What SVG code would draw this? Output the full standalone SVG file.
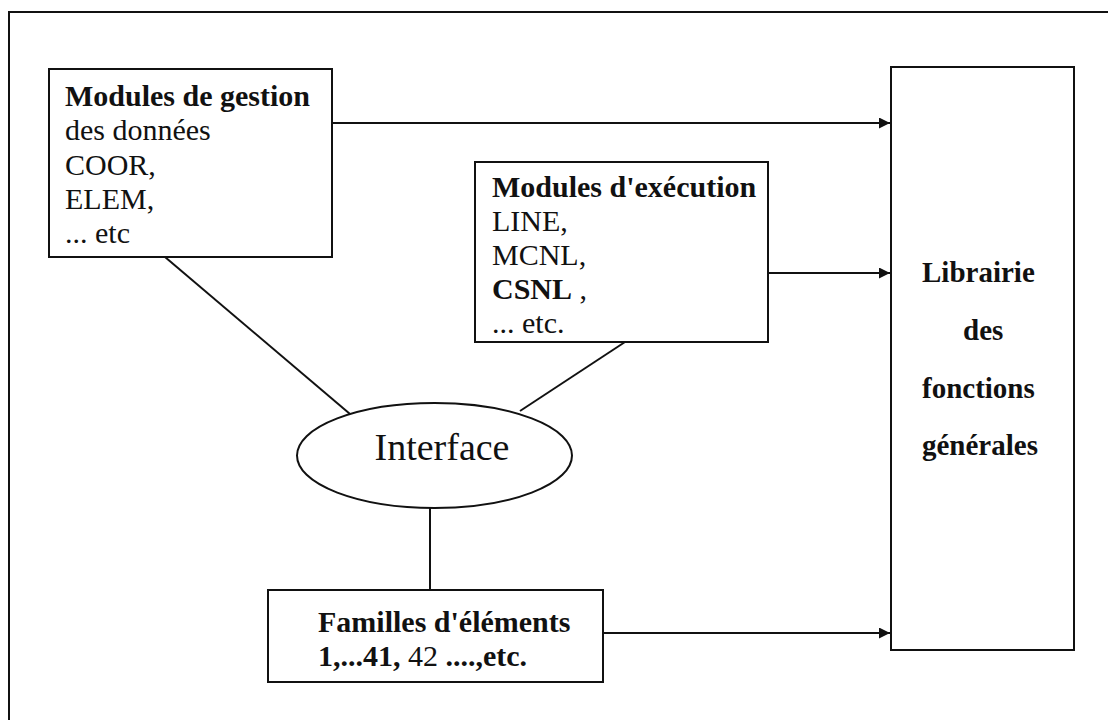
<svg xmlns="http://www.w3.org/2000/svg" width="1108" height="720" viewBox="0 0 1108 720">
<defs>
<style>
.box{fill:#fff;stroke:#111;stroke-width:2}
.ln{fill:none;stroke:#111;stroke-width:2}
.t{font-family:"Liberation Serif","Times New Roman",serif;font-size:30px;fill:#111}
.b{font-weight:bold}
.lib{font-family:"Liberation Serif","Times New Roman",serif;font-size:29px;font-weight:bold;fill:#111}
</style>
<marker id="arr" viewBox="0 0 12 12" refX="12" refY="6" markerWidth="12" markerHeight="11" markerUnits="userSpaceOnUse" orient="auto">
<path d="M0,0 L12,6 L0,12 Z" fill="#111"/>
</marker>
</defs>
<rect width="1108" height="720" fill="#fff"/>
<path class="ln" d="M9,724 V12 H1112"/>
<g id="connectors">
<line class="ln" x1="332" y1="123" x2="890" y2="123" marker-end="url(#arr)"/>
<line class="ln" x1="768" y1="273" x2="890" y2="273" marker-end="url(#arr)"/>
<line class="ln" x1="603" y1="633" x2="890" y2="633" marker-end="url(#arr)"/>
<line class="ln" x1="165" y1="257" x2="350" y2="414"/>
<line class="ln" x1="625" y1="342" x2="520" y2="411"/>
<line class="ln" x1="430" y1="508" x2="430" y2="590"/>
</g>
<g id="gestion">
<rect class="box" x="49" y="69" width="283" height="188"/>
<text class="t" x="65" y="106"><tspan class="b">Modules de gestion</tspan><tspan x="65" y="140">des données</tspan><tspan x="65" y="175">COOR,</tspan><tspan x="65" y="209">ELEM,</tspan><tspan x="65" y="243">... etc</tspan></text>
</g>
<g id="execution">
<rect class="box" x="475" y="162" width="293" height="180"/>
<text class="t" x="492" y="197"><tspan class="b">Modules d'exécution</tspan><tspan x="492" y="231">LINE,</tspan><tspan x="492" y="265">MCNL,</tspan><tspan x="492" y="299" class="b">CSNL</tspan><tspan>  ,</tspan><tspan x="492" y="333">... etc.</tspan></text>
</g>
<g id="interface">
<ellipse class="box" cx="434.5" cy="455.5" rx="137.5" ry="52.5"/>
<text class="t" x="442" y="460" text-anchor="middle" style="font-size:38px">Interface</text>
</g>
<g id="familles">
<rect class="box" x="268" y="590" width="335" height="92"/>
<text class="t" x="318" y="632"><tspan class="b">Familles d'éléments</tspan><tspan x="318" y="666" class="b">1,...41,</tspan><tspan> 42 </tspan><tspan class="b">....,etc.</tspan></text>
</g>
<g id="librairie">
<rect class="box" x="891" y="67" width="183" height="583"/>
<text class="lib" x="922" y="282">Librairie</text>
<text class="lib" x="963" y="340">des</text>
<text class="lib" x="922" y="398">fonctions</text>
<text class="lib" x="922" y="455">générales</text>
</g>
</svg>
